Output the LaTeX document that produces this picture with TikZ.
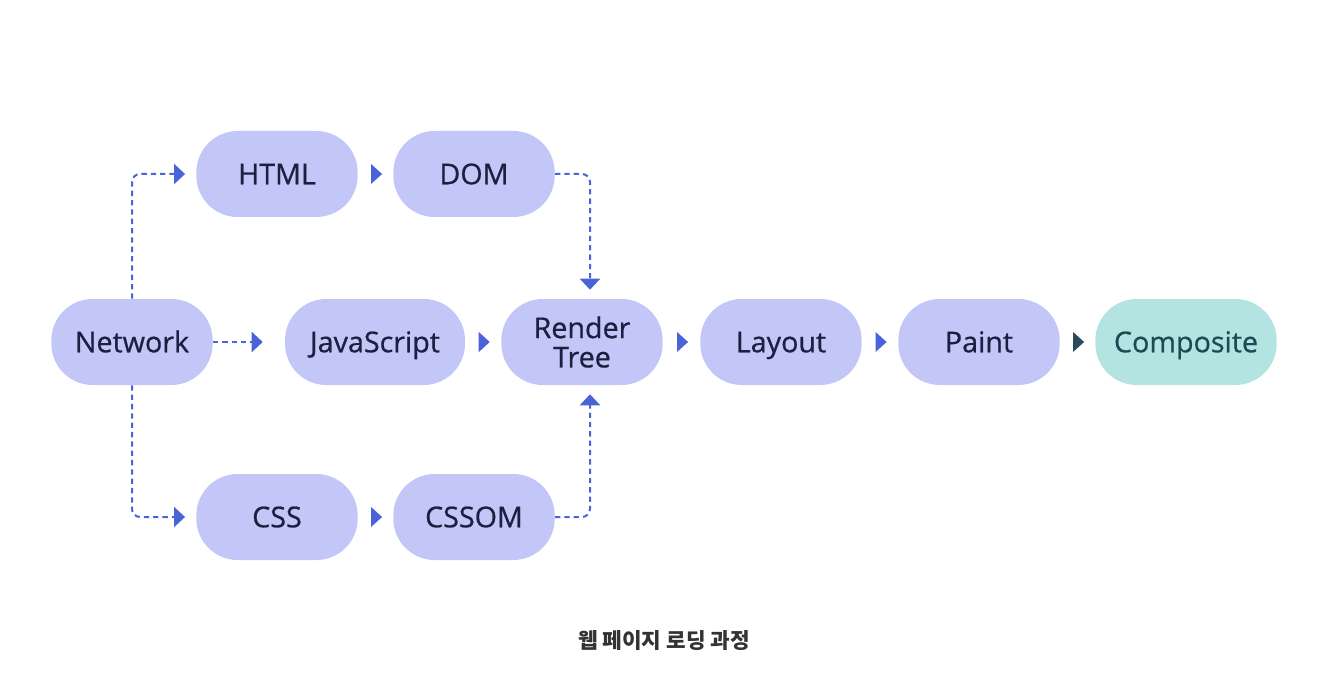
\documentclass[tikz,border=0pt]{standalone}
\usepackage{fontspec}
\setmainfont{Open Sans}
\newfontfamily\stagefont{Open Sans}[FakeBold=0.7]
\newfontfamily\cjk{Noto Sans CJK KR}
\usetikzlibrary{arrows.meta,shapes.geometric}

\definecolor{boxfill}{HTML}{C3C7F8}
\definecolor{boxtext}{HTML}{1C2040}
\definecolor{linkblue}{HTML}{4A63D8}
\definecolor{compfill}{HTML}{B3E4E1}
\definecolor{comptext}{HTML}{1D4A55}
\definecolor{comparrow}{HTML}{2B4A5E}

\tikzset{
    stage/.style={fill=boxfill, text=boxtext, rounded corners=31pt,
        minimum width=121pt, minimum height=64.5pt, align=center,
        text height=16.6pt, text depth=1.2pt,
        font=\stagefont\fontsize{21.5}{23}\selectfont},
    twoline/.style={text height=, text depth=},
    pointer/.style={isosceles triangle, isosceles triangle stretches,
        fill=linkblue, inner sep=0pt, minimum width=15pt, minimum height=8.25pt},
    dashln/.style={linkblue, line width=1.5pt, dash pattern=on 4pt off 3pt,
        rounded corners=6pt, -{Triangle[length=8.25pt,width=15pt]}}
}

\begin{document}
\begin{tikzpicture}[x=0.75pt,y=-0.75pt]
    \useasboundingbox (0,0) rectangle (1338,684);

    % Nodi
    \node[stage] (net) at (132,342) {Network};
    \node[stage] (html) at (277,174) {HTML};
    \node[stage] (dom) at (474,174) {DOM};
    \node[stage, minimum width=135pt] (js) at (375,342) {JavaScript};
    \node[stage, twoline] (rt) at (582,342) {Render\\[-1pt]Tree};
    \node[stage] (lay) at (781,342) {Layout};
    \node[stage] (pnt) at (979,342) {Paint};
    \node[stage, minimum width=136pt, fill=compfill, text=comptext] (comp) at (1186,342) {Composite};
    \node[stage] (css) at (277,517) {CSS};
    \node[stage] (cssom) at (474,517) {CSSOM};

    % Collegamenti tratteggiati
    \draw[dashln, shorten >=8.25pt] (net.north) |- (html.west);
    \draw[dashln, shorten >=16.5pt] (net.east) -- (js.west);
    \draw[dashln, shorten >=8.25pt] (net.south) |- (css.west);
    \draw[dashln, shorten >=6.75pt] (dom.east) -| ([xshift=6pt]rt.north);
    \draw[dashln, shorten >=6.75pt] (cssom.east) -| ([xshift=6pt]rt.south);

    % Frecce piene
    \path (html) -- node[pointer] {} (dom);
    \path (css) -- node[pointer] {} (cssom);
    \path (js) -- node[pointer] {} (rt);
    \path (rt) -- node[pointer] {} (lay);
    \path (lay) -- node[pointer] {} (pnt);
    \path (pnt) -- node[pointer, fill=comparrow] {} (comp);

    % Didascalia
    \node[text=black!80] (cap) at (664,641) {\cjk\bfseries\fontsize{16}{18}\selectfont 웹 페이지 로딩 과정};
\end{tikzpicture}
\end{document}
